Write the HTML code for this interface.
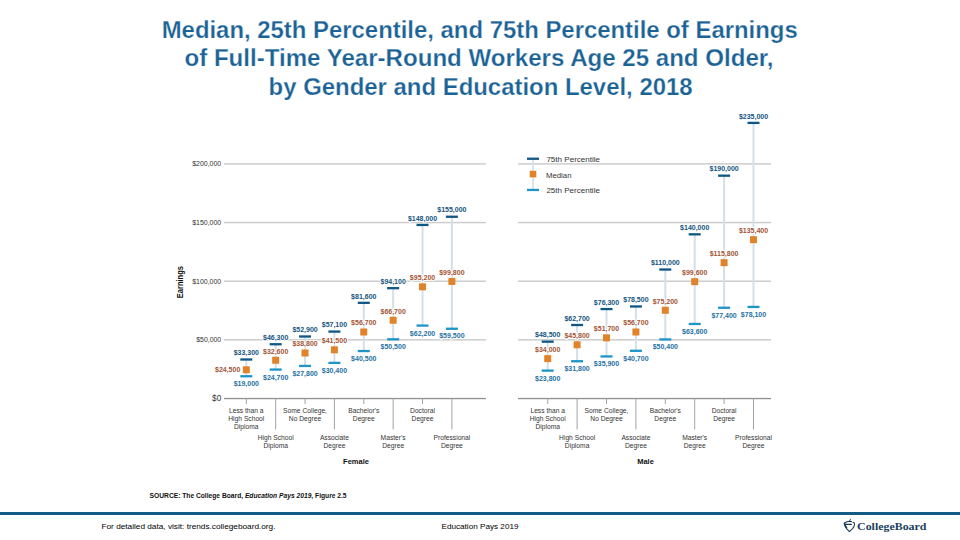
<!DOCTYPE html>
<html><head><meta charset="utf-8">
<style>
html,body{margin:0;padding:0;background:#fff;}
body{width:960px;height:540px;overflow:hidden;position:relative;font-family:"Liberation Sans",sans-serif;}
svg{position:absolute;left:0;top:0;}
svg text{font-family:"Liberation Sans",sans-serif;}
</style></head><body>
<svg width="960" height="540" viewBox="0 0 960 540">
<g font-weight="bold" font-size="23.6" fill="#1b6396" text-anchor="middle" stroke="#ffffff" stroke-width="0.25" paint-order="fill">
<text x="479.7" y="37.6" textLength="636" lengthAdjust="spacingAndGlyphs">Median, 25th Percentile, and 75th Percentile of Earnings</text>
<text x="479" y="66.3" textLength="589" lengthAdjust="spacingAndGlyphs">of Full-Time Year-Round Workers Age 25 and Older,</text>
<text x="480.6" y="94.9" textLength="424" lengthAdjust="spacingAndGlyphs">by Gender and Education Level, 2018</text>
</g>
<rect x="224" y="339.10" width="262" height="1.5" fill="#cdcdcd"/>
<text x="221.20" y="342.15" font-size="6.6" fill="#333333" font-weight="normal" text-anchor="end" textLength="25.00" lengthAdjust="spacingAndGlyphs" >$50,000</text>
<rect x="224" y="280.45" width="262" height="1.5" fill="#cdcdcd"/>
<text x="221.20" y="283.50" font-size="6.6" fill="#333333" font-weight="normal" text-anchor="end" textLength="29.01" lengthAdjust="spacingAndGlyphs" >$100,000</text>
<rect x="224" y="221.80" width="262" height="1.5" fill="#cdcdcd"/>
<text x="221.20" y="224.85" font-size="6.6" fill="#333333" font-weight="normal" text-anchor="end" textLength="29.01" lengthAdjust="spacingAndGlyphs" >$150,000</text>
<rect x="224" y="163.15" width="262" height="1.5" fill="#cdcdcd"/>
<text x="221.20" y="166.20" font-size="6.6" fill="#333333" font-weight="normal" text-anchor="end" textLength="29.01" lengthAdjust="spacingAndGlyphs" >$200,000</text>
<rect x="224" y="397.90" width="262" height="1.3" fill="#8f8f8f"/>
<text x="221.20" y="401.40" font-size="8.2" fill="#333333" font-weight="normal" text-anchor="end" >$0</text>
<rect x="245.80" y="398.50" width="1" height="5.5" fill="#a3a3a3"/>
<text x="246.30" y="412.80" font-size="6.7" fill="#333333" font-weight="normal" text-anchor="middle" >Less than a</text>
<text x="246.30" y="420.80" font-size="6.7" fill="#333333" font-weight="normal" text-anchor="middle" >High School</text>
<text x="246.30" y="428.80" font-size="6.7" fill="#333333" font-weight="normal" text-anchor="middle" >Diploma</text>
<rect x="275.17" y="398.50" width="1" height="31.0" fill="#a3a3a3"/>
<text x="275.67" y="440.00" font-size="6.7" fill="#333333" font-weight="normal" text-anchor="middle" >High School</text>
<text x="275.67" y="447.80" font-size="6.7" fill="#333333" font-weight="normal" text-anchor="middle" >Diploma</text>
<rect x="304.54" y="398.50" width="1" height="5.5" fill="#a3a3a3"/>
<text x="305.04" y="412.80" font-size="6.7" fill="#333333" font-weight="normal" text-anchor="middle" >Some College,</text>
<text x="305.04" y="420.80" font-size="6.7" fill="#333333" font-weight="normal" text-anchor="middle" >No Degree</text>
<rect x="333.91" y="398.50" width="1" height="31.0" fill="#a3a3a3"/>
<text x="334.41" y="440.00" font-size="6.7" fill="#333333" font-weight="normal" text-anchor="middle" >Associate</text>
<text x="334.41" y="447.80" font-size="6.7" fill="#333333" font-weight="normal" text-anchor="middle" >Degree</text>
<rect x="363.28" y="398.50" width="1" height="5.5" fill="#a3a3a3"/>
<text x="363.78" y="412.80" font-size="6.7" fill="#333333" font-weight="normal" text-anchor="middle" >Bachelor&#39;s</text>
<text x="363.78" y="420.80" font-size="6.7" fill="#333333" font-weight="normal" text-anchor="middle" >Degree</text>
<rect x="392.65" y="398.50" width="1" height="31.0" fill="#a3a3a3"/>
<text x="393.15" y="440.00" font-size="6.7" fill="#333333" font-weight="normal" text-anchor="middle" >Master&#39;s</text>
<text x="393.15" y="447.80" font-size="6.7" fill="#333333" font-weight="normal" text-anchor="middle" >Degree</text>
<rect x="422.02" y="398.50" width="1" height="5.5" fill="#a3a3a3"/>
<text x="422.52" y="412.80" font-size="6.7" fill="#333333" font-weight="normal" text-anchor="middle" >Doctoral</text>
<text x="422.52" y="420.80" font-size="6.7" fill="#333333" font-weight="normal" text-anchor="middle" >Degree</text>
<rect x="451.39" y="398.50" width="1" height="31.0" fill="#a3a3a3"/>
<text x="451.89" y="440.00" font-size="6.7" fill="#333333" font-weight="normal" text-anchor="middle" >Professional</text>
<text x="451.89" y="447.80" font-size="6.7" fill="#333333" font-weight="normal" text-anchor="middle" >Degree</text>
<rect x="245.30" y="359.44" width="2.0" height="16.77" fill="#d5dfe8"/>
<rect x="240.30" y="358.34" width="12" height="2.3" fill="#0f5785"/>
<rect x="240.30" y="375.11" width="12" height="2.3" fill="#1e94c8"/>
<rect x="242.80" y="366.26" width="7" height="7" fill="#e0832a"/>
<rect x="274.67" y="344.19" width="2.0" height="25.34" fill="#d5dfe8"/>
<rect x="269.67" y="343.09" width="12" height="2.3" fill="#0f5785"/>
<rect x="269.67" y="368.43" width="12" height="2.3" fill="#1e94c8"/>
<rect x="272.17" y="356.76" width="7" height="7" fill="#e0832a"/>
<rect x="304.04" y="336.45" width="2.0" height="29.44" fill="#d5dfe8"/>
<rect x="299.04" y="335.35" width="12" height="2.3" fill="#0f5785"/>
<rect x="299.04" y="364.79" width="12" height="2.3" fill="#1e94c8"/>
<rect x="301.54" y="349.49" width="7" height="7" fill="#e0832a"/>
<rect x="333.41" y="331.52" width="2.0" height="31.32" fill="#d5dfe8"/>
<rect x="328.41" y="330.42" width="12" height="2.3" fill="#0f5785"/>
<rect x="328.41" y="361.74" width="12" height="2.3" fill="#1e94c8"/>
<rect x="330.91" y="346.32" width="7" height="7" fill="#e0832a"/>
<rect x="362.78" y="302.78" width="2.0" height="48.21" fill="#d5dfe8"/>
<rect x="357.78" y="301.68" width="12" height="2.3" fill="#0f5785"/>
<rect x="357.78" y="349.89" width="12" height="2.3" fill="#1e94c8"/>
<rect x="360.28" y="328.49" width="7" height="7" fill="#e0832a"/>
<rect x="392.15" y="288.12" width="2.0" height="51.14" fill="#d5dfe8"/>
<rect x="387.15" y="287.02" width="12" height="2.3" fill="#0f5785"/>
<rect x="387.15" y="338.16" width="12" height="2.3" fill="#1e94c8"/>
<rect x="389.65" y="316.76" width="7" height="7" fill="#e0832a"/>
<rect x="421.52" y="224.90" width="2.0" height="100.64" fill="#d5dfe8"/>
<rect x="416.52" y="223.80" width="12" height="2.3" fill="#0f5785"/>
<rect x="416.52" y="324.44" width="12" height="2.3" fill="#1e94c8"/>
<rect x="419.02" y="283.33" width="7" height="7" fill="#e0832a"/>
<rect x="450.89" y="216.69" width="2.0" height="112.02" fill="#d5dfe8"/>
<rect x="445.89" y="215.59" width="12" height="2.3" fill="#0f5785"/>
<rect x="445.89" y="327.61" width="12" height="2.3" fill="#1e94c8"/>
<rect x="448.39" y="277.93" width="7" height="7" fill="#e0832a"/>
<text x="356.00" y="463.70" font-size="7.5" fill="#111" font-weight="bold" text-anchor="middle" >Female</text>
<rect x="518" y="339.10" width="253" height="1.5" fill="#cdcdcd"/>
<rect x="518" y="280.45" width="253" height="1.5" fill="#cdcdcd"/>
<rect x="518" y="221.80" width="253" height="1.5" fill="#cdcdcd"/>
<rect x="518" y="163.15" width="253" height="1.5" fill="#cdcdcd"/>
<rect x="518" y="397.90" width="253" height="1.3" fill="#8f8f8f"/>
<rect x="547.20" y="398.50" width="1" height="5.5" fill="#a3a3a3"/>
<text x="547.70" y="412.80" font-size="6.7" fill="#333333" font-weight="normal" text-anchor="middle" >Less than a</text>
<text x="547.70" y="420.80" font-size="6.7" fill="#333333" font-weight="normal" text-anchor="middle" >High School</text>
<text x="547.70" y="428.80" font-size="6.7" fill="#333333" font-weight="normal" text-anchor="middle" >Diploma</text>
<rect x="576.60" y="398.50" width="1" height="31.0" fill="#a3a3a3"/>
<text x="577.10" y="440.00" font-size="6.7" fill="#333333" font-weight="normal" text-anchor="middle" >High School</text>
<text x="577.10" y="447.80" font-size="6.7" fill="#333333" font-weight="normal" text-anchor="middle" >Diploma</text>
<rect x="606.00" y="398.50" width="1" height="5.5" fill="#a3a3a3"/>
<text x="606.50" y="412.80" font-size="6.7" fill="#333333" font-weight="normal" text-anchor="middle" >Some College,</text>
<text x="606.50" y="420.80" font-size="6.7" fill="#333333" font-weight="normal" text-anchor="middle" >No Degree</text>
<rect x="635.40" y="398.50" width="1" height="31.0" fill="#a3a3a3"/>
<text x="635.90" y="440.00" font-size="6.7" fill="#333333" font-weight="normal" text-anchor="middle" >Associate</text>
<text x="635.90" y="447.80" font-size="6.7" fill="#333333" font-weight="normal" text-anchor="middle" >Degree</text>
<rect x="664.80" y="398.50" width="1" height="5.5" fill="#a3a3a3"/>
<text x="665.30" y="412.80" font-size="6.7" fill="#333333" font-weight="normal" text-anchor="middle" >Bachelor&#39;s</text>
<text x="665.30" y="420.80" font-size="6.7" fill="#333333" font-weight="normal" text-anchor="middle" >Degree</text>
<rect x="694.20" y="398.50" width="1" height="31.0" fill="#a3a3a3"/>
<text x="694.70" y="440.00" font-size="6.7" fill="#333333" font-weight="normal" text-anchor="middle" >Master&#39;s</text>
<text x="694.70" y="447.80" font-size="6.7" fill="#333333" font-weight="normal" text-anchor="middle" >Degree</text>
<rect x="723.60" y="398.50" width="1" height="5.5" fill="#a3a3a3"/>
<text x="724.10" y="412.80" font-size="6.7" fill="#333333" font-weight="normal" text-anchor="middle" >Doctoral</text>
<text x="724.10" y="420.80" font-size="6.7" fill="#333333" font-weight="normal" text-anchor="middle" >Degree</text>
<rect x="753.00" y="398.50" width="1" height="31.0" fill="#a3a3a3"/>
<text x="753.50" y="440.00" font-size="6.7" fill="#333333" font-weight="normal" text-anchor="middle" >Professional</text>
<text x="753.50" y="447.80" font-size="6.7" fill="#333333" font-weight="normal" text-anchor="middle" >Degree</text>
<rect x="546.70" y="341.61" width="2.0" height="28.97" fill="#d5dfe8"/>
<rect x="541.70" y="340.51" width="12" height="2.3" fill="#0f5785"/>
<rect x="541.70" y="369.48" width="12" height="2.3" fill="#1e94c8"/>
<rect x="544.20" y="355.12" width="7" height="7" fill="#e0832a"/>
<rect x="576.10" y="324.95" width="2.0" height="36.25" fill="#d5dfe8"/>
<rect x="571.10" y="323.85" width="12" height="2.3" fill="#0f5785"/>
<rect x="571.10" y="360.10" width="12" height="2.3" fill="#1e94c8"/>
<rect x="573.60" y="341.28" width="7" height="7" fill="#e0832a"/>
<rect x="605.50" y="309.00" width="2.0" height="47.39" fill="#d5dfe8"/>
<rect x="600.50" y="307.90" width="12" height="2.3" fill="#0f5785"/>
<rect x="600.50" y="355.29" width="12" height="2.3" fill="#1e94c8"/>
<rect x="603.00" y="334.36" width="7" height="7" fill="#e0832a"/>
<rect x="634.90" y="306.42" width="2.0" height="44.34" fill="#d5dfe8"/>
<rect x="629.90" y="305.32" width="12" height="2.3" fill="#0f5785"/>
<rect x="629.90" y="349.66" width="12" height="2.3" fill="#1e94c8"/>
<rect x="632.40" y="328.49" width="7" height="7" fill="#e0832a"/>
<rect x="664.30" y="269.47" width="2.0" height="69.91" fill="#d5dfe8"/>
<rect x="659.30" y="268.37" width="12" height="2.3" fill="#0f5785"/>
<rect x="659.30" y="338.28" width="12" height="2.3" fill="#1e94c8"/>
<rect x="661.80" y="306.79" width="7" height="7" fill="#e0832a"/>
<rect x="693.70" y="234.28" width="2.0" height="89.62" fill="#d5dfe8"/>
<rect x="688.70" y="233.18" width="12" height="2.3" fill="#0f5785"/>
<rect x="688.70" y="322.80" width="12" height="2.3" fill="#1e94c8"/>
<rect x="691.20" y="278.17" width="7" height="7" fill="#e0832a"/>
<rect x="723.10" y="175.63" width="2.0" height="132.08" fill="#d5dfe8"/>
<rect x="718.10" y="174.53" width="12" height="2.3" fill="#0f5785"/>
<rect x="718.10" y="306.61" width="12" height="2.3" fill="#1e94c8"/>
<rect x="720.60" y="259.17" width="7" height="7" fill="#e0832a"/>
<rect x="752.50" y="122.85" width="2.0" height="184.04" fill="#d5dfe8"/>
<rect x="747.50" y="121.75" width="12" height="2.3" fill="#0f5785"/>
<rect x="747.50" y="305.79" width="12" height="2.3" fill="#1e94c8"/>
<rect x="750.00" y="236.18" width="7" height="7" fill="#e0832a"/>
<text x="645.50" y="463.70" font-size="7.5" fill="#111" font-weight="bold" text-anchor="middle" >Male</text>
<text x="0" y="0" font-size="8.2" font-weight="bold" fill="#111" text-anchor="middle" textLength="32.19" lengthAdjust="spacingAndGlyphs" transform="translate(182.6,282.1) rotate(-90)">Earnings</text>
<rect x="532.2" y="158.7" width="1.6" height="31.2" fill="#d5dfe8"/>
<rect x="527" y="157.6" width="12" height="2.3" fill="#0f5785"/>
<rect x="527" y="188.8" width="12" height="2.3" fill="#1e94c8"/>
<rect x="529.7" y="170.8" width="6.6" height="6.6" fill="#e0832a"/>
<text x="546.40" y="161.70" font-size="7.3" fill="#333333" font-weight="normal" text-anchor="start" textLength="53.71" lengthAdjust="spacingAndGlyphs" >75th Percentile</text>
<text x="546.00" y="177.80" font-size="7.3" fill="#333333" font-weight="normal" text-anchor="start" textLength="25.50" lengthAdjust="spacingAndGlyphs" >Median</text>
<text x="546.40" y="192.60" font-size="7.3" fill="#333333" font-weight="normal" text-anchor="start" textLength="53.51" lengthAdjust="spacingAndGlyphs" >25th Percentile</text>
<text x="149.6" y="498.1" font-size="6.6" fill="#111" font-weight="bold" textLength="196.99" lengthAdjust="spacingAndGlyphs">SOURCE: The College Board, <tspan font-style="italic">Education Pays 2019</tspan>, Figure 2.5</text>
<rect x="0" y="512" width="960" height="3" fill="#135a84"/>
<text x="101.50" y="529.00" font-size="7.8" fill="#000" font-weight="normal" text-anchor="start" textLength="173.99" lengthAdjust="spacingAndGlyphs" >For detailed data, visit: trends.collegeboard.org.</text>
<text x="441.50" y="529.00" font-size="7.8" fill="#000" font-weight="normal" text-anchor="start" textLength="77.01" lengthAdjust="spacingAndGlyphs" >Education Pays 2019</text>
<text x="857.10" y="529.90" font-size="9.6" fill="#1a3f5c" font-weight="bold" text-anchor="start" textLength="69.37" lengthAdjust="spacingAndGlyphs" style="font-family:'Liberation Serif',serif">CollegeBoard</text>
<g fill="none" stroke="#1a3a52" stroke-width="1.05" stroke-linecap="round" stroke-linejoin="round"><path d="M844.4,523.2 Q846.6,521.2 849.7,521.2 L851.5,521.6"/><path d="M852.9,522.3 Q854.7,522.6 854.6,524.2 Q854.3,526.8 852.6,528.6 L849.4,531.6 L846.8,528.8 Q845.0,526.5 844.4,523.2"/><path d="M844.6,523.6 Q845.2,526.2 846.4,527.8" stroke-width="1.9"/><path d="M846.1,524.4 L851.4,524.4" stroke-width="1.15"/><path d="M849.6,521.0 L850.5,519.2" stroke-width="0.9"/></g>
<text x="246.30" y="355.24" font-size="7.0" fill="#15557f" font-weight="bold" text-anchor="middle" stroke="#fff" stroke-width="1.8" stroke-linejoin="round" paint-order="stroke">$33,300</text>
<text x="246.30" y="386.31" font-size="7.0" fill="#1f72a3" font-weight="bold" text-anchor="middle" stroke="#fff" stroke-width="1.8" stroke-linejoin="round" paint-order="stroke">$19,000</text>
<text x="240.30" y="371.76" font-size="7.0" fill="#a25536" font-weight="bold" text-anchor="end" stroke="#fff" stroke-width="1.8" stroke-linejoin="round" paint-order="stroke">$24,500</text>
<text x="275.67" y="339.99" font-size="7.0" fill="#15557f" font-weight="bold" text-anchor="middle" stroke="#fff" stroke-width="1.8" stroke-linejoin="round" paint-order="stroke">$46,300</text>
<text x="275.67" y="379.63" font-size="7.0" fill="#1f72a3" font-weight="bold" text-anchor="middle" stroke="#fff" stroke-width="1.8" stroke-linejoin="round" paint-order="stroke">$24,700</text>
<text x="275.67" y="353.76" font-size="7.0" fill="#a25536" font-weight="bold" text-anchor="middle" stroke="#fff" stroke-width="1.8" stroke-linejoin="round" paint-order="stroke">$32,600</text>
<text x="305.04" y="332.25" font-size="7.0" fill="#15557f" font-weight="bold" text-anchor="middle" stroke="#fff" stroke-width="1.8" stroke-linejoin="round" paint-order="stroke">$52,900</text>
<text x="305.04" y="375.99" font-size="7.0" fill="#1f72a3" font-weight="bold" text-anchor="middle" stroke="#fff" stroke-width="1.8" stroke-linejoin="round" paint-order="stroke">$27,800</text>
<text x="305.04" y="346.49" font-size="7.0" fill="#a25536" font-weight="bold" text-anchor="middle" stroke="#fff" stroke-width="1.8" stroke-linejoin="round" paint-order="stroke">$38,800</text>
<text x="334.41" y="327.32" font-size="7.0" fill="#15557f" font-weight="bold" text-anchor="middle" stroke="#fff" stroke-width="1.8" stroke-linejoin="round" paint-order="stroke">$57,100</text>
<text x="334.41" y="372.94" font-size="7.0" fill="#1f72a3" font-weight="bold" text-anchor="middle" stroke="#fff" stroke-width="1.8" stroke-linejoin="round" paint-order="stroke">$30,400</text>
<text x="334.41" y="343.32" font-size="7.0" fill="#a25536" font-weight="bold" text-anchor="middle" stroke="#fff" stroke-width="1.8" stroke-linejoin="round" paint-order="stroke">$41,500</text>
<text x="363.78" y="298.58" font-size="7.0" fill="#15557f" font-weight="bold" text-anchor="middle" stroke="#fff" stroke-width="1.8" stroke-linejoin="round" paint-order="stroke">$81,600</text>
<text x="363.78" y="361.09" font-size="7.0" fill="#1f72a3" font-weight="bold" text-anchor="middle" stroke="#fff" stroke-width="1.8" stroke-linejoin="round" paint-order="stroke">$40,500</text>
<text x="363.78" y="325.49" font-size="7.0" fill="#a25536" font-weight="bold" text-anchor="middle" stroke="#fff" stroke-width="1.8" stroke-linejoin="round" paint-order="stroke">$56,700</text>
<text x="393.15" y="283.92" font-size="7.0" fill="#15557f" font-weight="bold" text-anchor="middle" stroke="#fff" stroke-width="1.8" stroke-linejoin="round" paint-order="stroke">$94,100</text>
<text x="393.15" y="349.36" font-size="7.0" fill="#1f72a3" font-weight="bold" text-anchor="middle" stroke="#fff" stroke-width="1.8" stroke-linejoin="round" paint-order="stroke">$50,500</text>
<text x="393.15" y="313.76" font-size="7.0" fill="#a25536" font-weight="bold" text-anchor="middle" stroke="#fff" stroke-width="1.8" stroke-linejoin="round" paint-order="stroke">$66,700</text>
<text x="422.52" y="220.70" font-size="7.0" fill="#15557f" font-weight="bold" text-anchor="middle" stroke="#fff" stroke-width="1.8" stroke-linejoin="round" paint-order="stroke">$148,000</text>
<text x="422.52" y="335.64" font-size="7.0" fill="#1f72a3" font-weight="bold" text-anchor="middle" stroke="#fff" stroke-width="1.8" stroke-linejoin="round" paint-order="stroke">$62,200</text>
<text x="422.52" y="280.33" font-size="7.0" fill="#a25536" font-weight="bold" text-anchor="middle" stroke="#fff" stroke-width="1.8" stroke-linejoin="round" paint-order="stroke">$95,200</text>
<text x="451.89" y="212.49" font-size="7.0" fill="#15557f" font-weight="bold" text-anchor="middle" stroke="#fff" stroke-width="1.8" stroke-linejoin="round" paint-order="stroke">$155,000</text>
<text x="451.89" y="337.71" font-size="7.0" fill="#1f72a3" font-weight="bold" text-anchor="middle" stroke="#fff" stroke-width="1.8" stroke-linejoin="round" paint-order="stroke">$59,500</text>
<text x="451.89" y="274.93" font-size="7.0" fill="#a25536" font-weight="bold" text-anchor="middle" stroke="#fff" stroke-width="1.8" stroke-linejoin="round" paint-order="stroke">$99,800</text>
<text x="547.70" y="337.41" font-size="7.0" fill="#15557f" font-weight="bold" text-anchor="middle" stroke="#fff" stroke-width="1.8" stroke-linejoin="round" paint-order="stroke">$48,500</text>
<text x="547.70" y="380.68" font-size="7.0" fill="#1f72a3" font-weight="bold" text-anchor="middle" stroke="#fff" stroke-width="1.8" stroke-linejoin="round" paint-order="stroke">$23,800</text>
<text x="547.70" y="352.12" font-size="7.0" fill="#a25536" font-weight="bold" text-anchor="middle" stroke="#fff" stroke-width="1.8" stroke-linejoin="round" paint-order="stroke">$34,000</text>
<text x="577.10" y="320.75" font-size="7.0" fill="#15557f" font-weight="bold" text-anchor="middle" stroke="#fff" stroke-width="1.8" stroke-linejoin="round" paint-order="stroke">$62,700</text>
<text x="577.10" y="371.30" font-size="7.0" fill="#1f72a3" font-weight="bold" text-anchor="middle" stroke="#fff" stroke-width="1.8" stroke-linejoin="round" paint-order="stroke">$31,800</text>
<text x="577.10" y="338.28" font-size="7.0" fill="#a25536" font-weight="bold" text-anchor="middle" stroke="#fff" stroke-width="1.8" stroke-linejoin="round" paint-order="stroke">$45,800</text>
<text x="606.50" y="304.80" font-size="7.0" fill="#15557f" font-weight="bold" text-anchor="middle" stroke="#fff" stroke-width="1.8" stroke-linejoin="round" paint-order="stroke">$76,300</text>
<text x="606.50" y="366.49" font-size="7.0" fill="#1f72a3" font-weight="bold" text-anchor="middle" stroke="#fff" stroke-width="1.8" stroke-linejoin="round" paint-order="stroke">$35,900</text>
<text x="606.50" y="331.36" font-size="7.0" fill="#a25536" font-weight="bold" text-anchor="middle" stroke="#fff" stroke-width="1.8" stroke-linejoin="round" paint-order="stroke">$51,700</text>
<text x="635.90" y="302.22" font-size="7.0" fill="#15557f" font-weight="bold" text-anchor="middle" stroke="#fff" stroke-width="1.8" stroke-linejoin="round" paint-order="stroke">$78,500</text>
<text x="635.90" y="360.86" font-size="7.0" fill="#1f72a3" font-weight="bold" text-anchor="middle" stroke="#fff" stroke-width="1.8" stroke-linejoin="round" paint-order="stroke">$40,700</text>
<text x="635.90" y="325.49" font-size="7.0" fill="#a25536" font-weight="bold" text-anchor="middle" stroke="#fff" stroke-width="1.8" stroke-linejoin="round" paint-order="stroke">$56,700</text>
<text x="665.30" y="265.27" font-size="7.0" fill="#15557f" font-weight="bold" text-anchor="middle" stroke="#fff" stroke-width="1.8" stroke-linejoin="round" paint-order="stroke">$110,000</text>
<text x="665.30" y="349.48" font-size="7.0" fill="#1f72a3" font-weight="bold" text-anchor="middle" stroke="#fff" stroke-width="1.8" stroke-linejoin="round" paint-order="stroke">$50,400</text>
<text x="665.30" y="303.79" font-size="7.0" fill="#a25536" font-weight="bold" text-anchor="middle" stroke="#fff" stroke-width="1.8" stroke-linejoin="round" paint-order="stroke">$75,200</text>
<text x="694.70" y="230.08" font-size="7.0" fill="#15557f" font-weight="bold" text-anchor="middle" stroke="#fff" stroke-width="1.8" stroke-linejoin="round" paint-order="stroke">$140,000</text>
<text x="694.70" y="334.00" font-size="7.0" fill="#1f72a3" font-weight="bold" text-anchor="middle" stroke="#fff" stroke-width="1.8" stroke-linejoin="round" paint-order="stroke">$63,600</text>
<text x="694.70" y="275.17" font-size="7.0" fill="#a25536" font-weight="bold" text-anchor="middle" stroke="#fff" stroke-width="1.8" stroke-linejoin="round" paint-order="stroke">$99,600</text>
<text x="724.10" y="171.43" font-size="7.0" fill="#15557f" font-weight="bold" text-anchor="middle" stroke="#fff" stroke-width="1.8" stroke-linejoin="round" paint-order="stroke">$190,000</text>
<text x="724.10" y="317.81" font-size="7.0" fill="#1f72a3" font-weight="bold" text-anchor="middle" stroke="#fff" stroke-width="1.8" stroke-linejoin="round" paint-order="stroke">$77,400</text>
<text x="724.10" y="256.17" font-size="7.0" fill="#a25536" font-weight="bold" text-anchor="middle" stroke="#fff" stroke-width="1.8" stroke-linejoin="round" paint-order="stroke">$115,800</text>
<text x="753.50" y="118.65" font-size="7.0" fill="#15557f" font-weight="bold" text-anchor="middle" stroke="#fff" stroke-width="1.8" stroke-linejoin="round" paint-order="stroke">$235,000</text>
<text x="753.50" y="316.99" font-size="7.0" fill="#1f72a3" font-weight="bold" text-anchor="middle" stroke="#fff" stroke-width="1.8" stroke-linejoin="round" paint-order="stroke">$78,100</text>
<text x="753.50" y="233.18" font-size="7.0" fill="#a25536" font-weight="bold" text-anchor="middle" stroke="#fff" stroke-width="1.8" stroke-linejoin="round" paint-order="stroke">$135,400</text>
</svg>
</body></html>
